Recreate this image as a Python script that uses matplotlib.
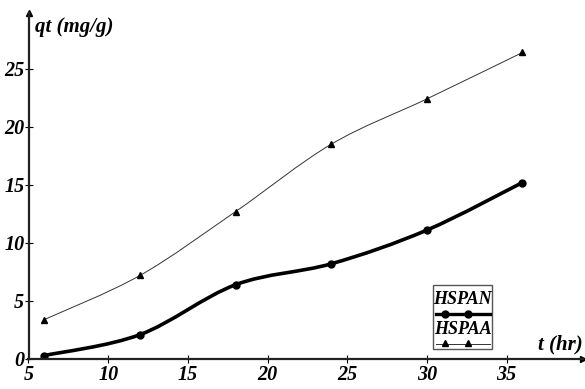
import numpy as np
import matplotlib
matplotlib.use("Agg")
import matplotlib.pyplot as plt
from matplotlib.path import Path
from matplotlib.patches import PathPatch, Rectangle

t_hr = [6, 12, 18, 24, 30, 36]
hspan = [0.3, 2.1, 6.4, 8.2, 11.1, 15.2]
hspaa = [3.4, 7.2, 12.7, 18.5, 22.4, 26.4]
xticks = [5, 10, 15, 20, 25, 30, 35]
yticks = [0, 5, 10, 15, 20, 25]

plt.rcParams['font.family'] = 'Liberation Serif'
plt.rcParams['font.weight'] = 'bold'
plt.rcParams['font.style'] = 'italic'


def smooth_path(x, y):
    # catmull-rom through the points, drawn as cubic bezier segments
    x = np.asarray(x, float)
    y = np.asarray(y, float)
    px = np.r_[x[0], x, x[-1]]
    py = np.r_[y[0], y, y[-1]]
    verts = [(x[0], y[0])]
    codes = [Path.MOVETO]
    for i in range(1, len(px) - 2):
        c1 = (px[i] + (px[i + 1] - px[i - 1]) / 6, py[i] + (py[i + 1] - py[i - 1]) / 6)
        c2 = (px[i + 1] - (px[i + 2] - px[i]) / 6, py[i + 1] - (py[i + 2] - py[i]) / 6)
        verts += [c1, c2, (px[i + 1], py[i + 1])]
        codes += [Path.CURVE4] * 3
    return Path(verts, codes)


W, H = 585, 389
fig = plt.figure(figsize=(W / 100, H / 100), dpi=100)
ax = fig.add_axes([28.5 / W, 30 / H, (583 - 28.5) / W, (359 - 13) / H])
ax.set_xlim(5, 39.8)
ax.set_ylim(0, 29.8)

ax.add_patch(PathPatch(smooth_path(t_hr, hspaa), fill=False, lw=0.7, color='#333333'))
ax.plot(t_hr, hspaa, ls='none', marker='^', ms=5, color='black')
ax.add_patch(PathPatch(smooth_path(t_hr, hspan), fill=False, lw=2.6, color='black'))
ax.plot(t_hr, hspan, ls='none', marker='o', ms=5, color='black')

for s in ['top', 'right']:
    ax.spines[s].set_visible(False)
for s in ['left', 'bottom']:
    ax.spines[s].set_linewidth(1.6)
    ax.spines[s].set_color('#222222')
ax.plot(1, 0, marker='>', ms=5, color='black', transform=ax.transAxes, clip_on=False)
ax.plot(0, 1, marker='^', ms=5, color='black', transform=ax.transAxes, clip_on=False)

ax.set_xticks(xticks)
ax.set_yticks(yticks)
ax.tick_params(direction='inout', length=6, width=0.8, labelsize=14.5, pad=1)
ax.tick_params(axis='y', pad=0)

fig.text(35 / W, 1 - 27 / H, 'qt (mg/g)', fontsize=15, va='center', ha='left')
fig.text(583 / W, 1 - 344 / H, 't (hr)', fontsize=15, va='center', ha='right')

# legend box: names above their line samples
lg = fig.add_axes([433 / W, 1 - 349 / H, (492 - 433) / W, (349 - 285) / H])
lg.set_xlim(0, 1)
lg.set_ylim(0, 1)
lg.axis('off')
lg.add_patch(Rectangle((0, 0), 1, 1, fill=False, lw=1.0, ec='#555555',
                       transform=lg.transAxes, clip_on=False))
lg.text(0.5, 0.78, 'HSPAN', fontsize=13, ha='center', va='center')
lg.plot([0.05, 0.97], [0.55, 0.55], color='black', lw=2.4)
lg.plot([0.2, 0.6], [0.55, 0.55], ls='none', marker='o', ms=5, color='black')
lg.text(0.5, 0.31, 'HSPAA', fontsize=13, ha='center', va='center')
lg.plot([0.05, 0.97], [0.08, 0.08], color='#333333', lw=0.7)
lg.plot([0.2, 0.6], [0.1, 0.1], ls='none', marker='^', ms=5, color='black')

fig.savefig('out.png', dpi=100)
